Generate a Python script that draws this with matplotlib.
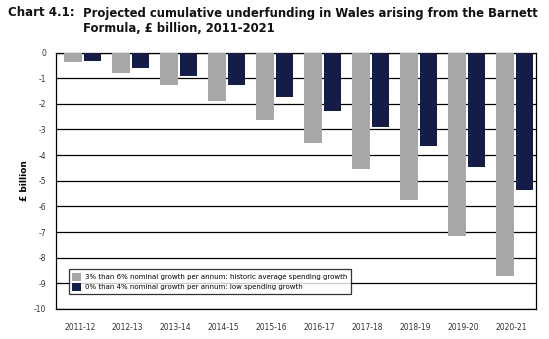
import matplotlib
matplotlib.use("Agg")
import matplotlib.pyplot as plt
from matplotlib.patches import Patch
import numpy as np

years = ["2011-12", "2012-13", "2013-14", "2014-15", "2015-16",
         "2016-17", "2017-18", "2018-19", "2019-20", "2020-21"]
historic = [-0.36, -0.80, -1.27, -1.90, -2.64, -3.53, -4.54, -5.76, -7.15, -8.72]
low = [-0.32, -0.61, -0.92, -1.27, -1.73, -2.26, -2.90, -3.64, -4.46, -5.35]
yticks = list(range(0, -11, -1))

grey = "#a7a7a7"
navy = "#141c4a"

fig = plt.figure(figsize=(5.49, 3.39), dpi=100)
ax = fig.add_axes([0.1015, 0.0885, 0.8743, 0.7565])

x = np.arange(len(years))
ax.bar(x - 0.14, historic, width=0.37, color=grey, zorder=3)
ax.bar(x + 0.265, low, width=0.355, color=navy, zorder=3)

ax.set_xlim(-0.5, len(years) - 0.5)
ax.set_ylim(-10, 0)
ax.set_yticks(yticks)
ax.set_yticklabels([str(v) for v in yticks])
ax.set_xticks(x)
ax.set_xticklabels(years)
ax.tick_params(axis="both", length=0, labelsize=5.5, labelcolor="#333333")
ax.tick_params(axis="x", pad=10)
ax.tick_params(axis="y", pad=7)
ax.yaxis.grid(True, color="black", linewidth=0.9, zorder=1)
for s in ax.spines.values():
    s.set_linewidth(0.9)
    s.set_color("black")

ax.set_ylabel("£ billion", fontsize=6.5, fontweight="bold", labelpad=3)

handles = [Patch(facecolor=grey, edgecolor="none",
                 label="3% than 6% nominal growth per annum: historic average spending growth"),
           Patch(facecolor=navy, edgecolor="none",
                 label="0% than 4% nominal growth per annum: low spending growth")]
leg = ax.legend(handles=handles, loc="lower left", bbox_to_anchor=(0.02, 0.045),
                fontsize=5, frameon=True, fancybox=False, handlelength=1.2,
                handleheight=1.3, handletextpad=0.6, borderpad=0.5,
                labelspacing=0.35)
leg.get_frame().set_edgecolor("black")
leg.get_frame().set_linewidth(0.9)
leg.set_zorder(5)

fig.text(8 / 549, 1 - 13 / 339, "Chart 4.1:", fontsize=8.5, fontweight="bold",
         va="center", ha="left", color="#111111")
fig.text(83 / 549, 1 - 13 / 339,
         "Projected cumulative underfunding in Wales arising from the Barnett",
         fontsize=8.4, fontweight="bold", va="center", ha="left", color="#111111")
fig.text(83 / 549, 1 - 29 / 339, "Formula, £ billion, 2011-2021",
         fontsize=8.4, fontweight="bold", va="center", ha="left", color="#111111")

fig.savefig("out.png", dpi=100, facecolor="white")
